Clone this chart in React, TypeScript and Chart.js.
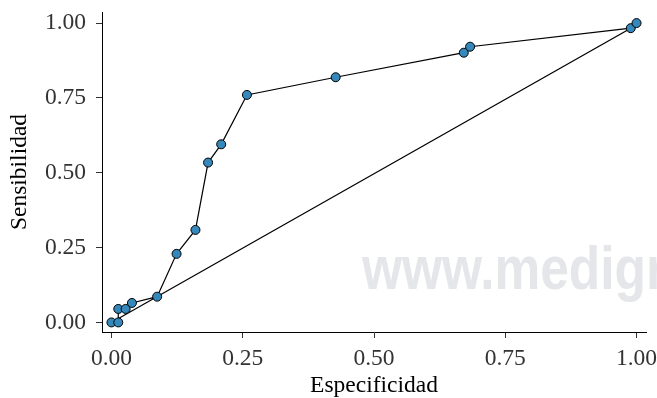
import React, { useEffect, useRef } from "react";
import { Chart, registerables } from "chart.js";

Chart.register(...registerables);

// Specificity (x) and sensitivity (y) of each cut-off point
const specificity = [0, 0.013, 0.013, 0.027, 0.039, 0.087, 0.124, 0.160, 0.184, 0.209, 0.258, 0.427, 0.671, 0.683, 0.989, 1.0];
const sensitivity = [0, 0, 0.045, 0.045, 0.065, 0.086, 0.229, 0.309, 0.534, 0.595, 0.760, 0.819, 0.901, 0.921, 0.983, 1.0];
// Order in which the points are joined by the drawn path
const pathOrder = [0, 1, 2, 3, 4, 5, 6, 7, 8, 9, 10, 11, 12, 13, 14, 15, 14, 0];

const xTicks = [0, 0.25, 0.5, 0.75, 1];
const yTicks = [0, 0.25, 0.5, 0.75, 1];
const xTitle = "Especificidad";
const yTitle = "Sensibilidad";
const watermark = "www.medigraphic.com";

const SERIF = "'Liberation Serif', 'Times New Roman', serif";

const watermarkPlugin = {
  id: "watermark",
  beforeDatasetsDraw(chart: any) {
    const ctx = chart.ctx;
    ctx.save();
    ctx.fillStyle = "#e5e6e9";
    ctx.font = "bold 62px 'Liberation Sans', Arial, sans-serif";
    ctx.textBaseline = "alphabetic";
    ctx.textAlign = "left";
    ctx.translate(362, 289);
    ctx.scale(0.83, 1);
    ctx.fillText(watermark, 0, 0);
    ctx.restore();
  },
};

export default function App() {
  const ref = useRef<HTMLCanvasElement>(null);
  useEffect(() => {
    document.body.style.margin = "0";
    const points = specificity.map((x, i) => ({ x, y: sensitivity[i] }));
    const path = pathOrder.map((i) => ({ x: specificity[i], y: sensitivity[i] }));
    const chart = new Chart(ref.current as HTMLCanvasElement, {
      type: "scatter",
      data: {
        datasets: [
          {
            data: points,
            order: 0,
            pointRadius: 4.5,
            pointHoverRadius: 4.5,
            pointBackgroundColor: "#3488bb",
            pointBorderColor: "#000",
            pointBorderWidth: 1,
            showLine: false,
            clip: false,
          } as any,
          {
            data: path,
            order: 1,
            showLine: true,
            pointRadius: 0,
            borderColor: "#000",
            borderWidth: 1.2,
            tension: 0,
            clip: false,
          } as any,
        ],
      },
      options: {
        animation: false,
        responsive: false,
        events: [],
        layout: { padding: { top: 12, right: 11, left: 0, bottom: 0 } },
        plugins: { legend: { display: false }, tooltip: { enabled: false } },
        scales: {
          x: {
            type: "linear",
            min: -0.018,
            max: 1.018,
            afterFit: (s: any) => {
              s.height = 66;
              s.paddingLeft = 0;
              s.paddingRight = 0;
            },
            afterBuildTicks: (s: any) => { s.ticks = xTicks.map((v) => ({ value: v })); },
            ticks: {
              callback: (v: any) => Number(v).toFixed(2),
              font: { family: SERIF, size: 23.5 },
              color: "#333",
              padding: 7,
              maxRotation: 0,
            },
            grid: { display: true, drawOnChartArea: false, drawTicks: true, tickLength: 6, color: "#333", tickWidth: 1 },
            border: { display: true, color: "#000", width: 1 },
            title: {
              display: true,
              text: xTitle,
              font: { family: SERIF, size: 23.5, lineHeight: 1 },
              color: "#000",
              padding: { top: 0, bottom: 0 },
            },
          },
          y: {
            type: "linear",
            min: -0.032,
            max: 1.037,
            afterFit: (s: any) => {
              s.width = 102;
              s.paddingTop = 0;
              s.paddingBottom = 0;
            },
            afterBuildTicks: (s: any) => { s.ticks = yTicks.map((v) => ({ value: v })); },
            ticks: {
              callback: (v: any) => Number(v).toFixed(2),
              font: { family: SERIF, size: 23.5 },
              color: "#333",
              padding: 10,
            },
            grid: { display: true, drawOnChartArea: false, drawTicks: true, tickLength: 6, color: "#333", tickWidth: 1 },
            border: { display: true, color: "#000", width: 1 },
            title: {
              display: true,
              text: yTitle,
              font: { family: SERIF, size: 23.5, lineHeight: 1 },
              color: "#000",
              padding: { top: 8.5, bottom: 0 },
            },
          },
        },
      },
      plugins: [watermarkPlugin],
    });
    return () => chart.destroy();
  }, []);
  return (
    <div style={{ width: 657, height: 398 }}>
      <canvas ref={ref} width={657} height={398} style={{ display: "block" }} />
    </div>
  );
}
